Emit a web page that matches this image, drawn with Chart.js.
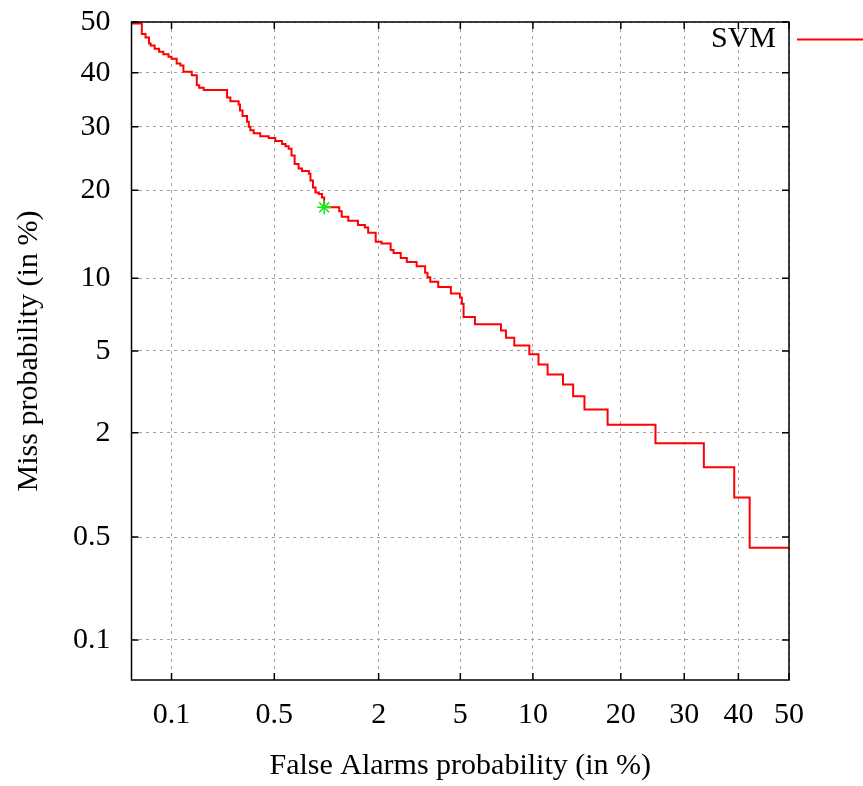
<!DOCTYPE html>
<html>
<head>
<meta charset="utf-8">
<title>DET curve</title>
<script src="https://cdn.jsdelivr.net/npm/chart.js@4.4.0/dist/chart.umd.min.js"></script>
<style>
  body { margin: 0; background: #fff; }
</style>
</head>
<body>
<canvas id="det" width="863" height="786"></canvas>
<script>
// tick positions (in %) shared by both axes
const tickPct = [0.1, 0.5, 2, 5, 10, 20, 30, 40, 50];
const tickLabels = ["0.1", "0.5", "2", "5", "10", "20", "30", "40", "50"];
const axisMinPct = 0.05;
const axisMaxPct = 50;

// SVM DET curve (false alarm %, miss %)
const falseAlarmPct = [0.05, 0.060, 0.064, 0.068, 0.070, 0.075, 0.081, 0.087, 0.095, 0.100,
  0.109, 0.116, 0.122, 0.140, 0.152, 0.158, 0.170, 0.246, 0.259, 0.294,
  0.300, 0.312, 0.334, 0.343, 0.351, 0.369, 0.407, 0.461, 0.507, 0.559,
  0.587, 0.614, 0.639, 0.668, 0.706, 0.74, 0.813, 0.831, 0.86, 0.89,
  0.931, 0.972, 1.0, 1.22, 1.26, 1.37, 1.55, 1.69, 1.76, 1.93,
  2.07, 2.31, 2.39, 2.60, 2.79, 3.12, 3.43, 3.52, 3.63, 3.96,
  4.53, 4.98, 5.08, 5.17, 5.80, 7.47, 7.83, 8.46, 9.69, 10.5,
  11.35, 12.9, 14.0, 15.3, 18.2, 25.2, 33.5, 39.2, 42.2, 50];
const missPct = [49.7, 47.6, 46.9, 45.7, 45.3, 44.7, 44.1, 43.6, 43.1, 42.7,
  41.8, 41.4, 40.2, 39.5, 37.6, 37.1, 36.7, 35.3, 34.6, 34.0,
  32.9, 31.9, 30.9, 30.0, 29.4, 28.9, 28.4, 28.1, 27.6, 27.1,
  26.7, 26.3, 25.2, 23.9, 23.2, 22.8, 22.4, 21.4, 20.4, 19.7,
  19.5, 19.0, 17.7, 17.2, 16.5, 16.0, 15.5, 15.2, 14.6, 13.6,
  13.4, 12.7, 12.4, 11.9, 11.5, 11.1, 10.5, 10.1, 9.7, 9.26,
  8.72, 8.41, 7.95, 7.01, 6.53, 6.15, 5.72, 5.29, 4.83, 4.34,
  3.90, 3.49, 3.06, 2.63, 2.20, 1.76, 1.30, 0.87, 0.428, 0.428];

// green star (operating point)
const pointFa = [1.0];
const pointMiss = [17.7];

// inverse of the normal cdf (Acklam), DET axes are on this scale
function probit(p) {
  const a = [-3.969683028665376e+01, 2.209460984245205e+02, -2.759285104469687e+02, 1.383577518672690e+02, -3.066479806614716e+01, 2.506628277459239e+00];
  const b = [-5.447609879822406e+01, 1.615858368580409e+02, -1.556989798598866e+02, 6.680131188771972e+01, -1.328068155288572e+01];
  const c = [-7.784894002430293e-03, -3.223964580411365e-01, -2.400758277161838e+00, -2.549732539343734e+00, 4.374664141464968e+00, 2.938163982698783e+00];
  const d = [7.784695709041462e-03, 3.224671290700398e-01, 2.445134137142996e+00, 3.754408661907416e+00];
  const pl = 0.02425;
  let q, r;
  if (p < pl) {
    q = Math.sqrt(-2 * Math.log(p));
    return (((((c[0] * q + c[1]) * q + c[2]) * q + c[3]) * q + c[4]) * q + c[5]) /
      ((((d[0] * q + d[1]) * q + d[2]) * q + d[3]) * q + 1);
  }
  if (p <= 1 - pl) {
    q = p - 0.5;
    r = q * q;
    return (((((a[0] * r + a[1]) * r + a[2]) * r + a[3]) * r + a[4]) * r + a[5]) * q /
      (((((b[0] * r + b[1]) * r + b[2]) * r + b[3]) * r + b[4]) * r + 1);
  }
  q = Math.sqrt(-2 * Math.log(1 - p));
  return -(((((c[0] * q + c[1]) * q + c[2]) * q + c[3]) * q + c[4]) * q + c[5]) /
    ((((d[0] * q + d[1]) * q + d[2]) * q + d[3]) * q + 1);
}

const toDev = (pct) => probit(pct / 100);

const curve = falseAlarmPct.map((fa, i) => ({ x: toDev(fa), y: toDev(missPct[i]) }));
const star = pointFa.map((fa, i) => ({ x: toDev(fa), y: toDev(pointMiss[i]) }));

const serif = '"Liberation Serif", "Times New Roman", serif';
Chart.defaults.color = "#000";
Chart.defaults.font.family = serif;

// frame, inward ticks on all four sides and the key
const detFrame = {
  id: "detFrame",
  afterDraw(chart) {
    const { ctx, chartArea: a } = chart;
    const xs = chart.scales.x, ys = chart.scales.y;
    ctx.save();
    ctx.strokeStyle = "#000";
    ctx.lineWidth = 1.5;
    ctx.strokeRect(a.left, a.top, a.right - a.left, a.bottom - a.top);
    ctx.beginPath();
    xs.ticks.forEach((t) => {
      const px = xs.getPixelForValue(t.value);
      ctx.moveTo(px, a.bottom); ctx.lineTo(px, a.bottom - 7);
      ctx.moveTo(px, a.top); ctx.lineTo(px, a.top + 7);
    });
    ys.ticks.forEach((t) => {
      const py = ys.getPixelForValue(t.value);
      ctx.moveTo(a.left, py); ctx.lineTo(a.left + 7, py);
      ctx.moveTo(a.right, py); ctx.lineTo(a.right - 7, py);
    });
    ctx.stroke();

    ctx.font = "30px " + serif;
    ctx.fillStyle = "#000";
    ctx.textAlign = "right";
    ctx.textBaseline = "alphabetic";
    ctx.fillText("SVM", 776, 47);
    ctx.strokeStyle = "#ff0000";
    ctx.lineWidth = 2;
    ctx.beginPath();
    ctx.moveTo(797, 39.5);
    ctx.lineTo(863, 39.5);
    ctx.stroke();
    ctx.restore();
  }
};

function probitTicks(scale) {
  scale.ticks = tickPct.map((p) => ({ value: toDev(p) }));
}

const gridOpts = { color: "#a0a0a0", lineWidth: 1, drawTicks: false };
const borderOpts = { display: false, dash: [3, 4] };

new Chart(document.getElementById("det"), {
  type: "line",
  data: {
    datasets: [
      {
        label: "point",
        data: star,
        showLine: false,
        pointStyle: "star",
        pointRadius: 7,
        borderColor: "#11ee11",
        backgroundColor: "#11ee11",
        pointBorderWidth: 1.5
      },
      {
        label: "SVM",
        data: curve,
        stepped: "before",
        borderColor: "#ff0000",
        borderWidth: 2,
        pointRadius: 0,
        fill: false
      }
    ]
  },
  options: {
    responsive: false,
    animation: false,
    devicePixelRatio: 1,
    layout: { padding: { top: 22, right: 74, bottom: 0, left: 0 } },
    plugins: { legend: { display: false }, tooltip: { enabled: false } },
    scales: {
      x: {
        type: "linear",
        min: toDev(axisMinPct),
        max: toDev(axisMaxPct),
        afterBuildTicks: probitTicks,
        afterFit(scale) {
          scale.height = 106;
          scale.paddingLeft = 0;
          scale.paddingRight = 0;
        },
        grid: gridOpts,
        border: borderOpts,
        ticks: {
          autoSkip: false,
          maxRotation: 0,
          padding: 17,
          font: { size: 30 },
          callback: (v, i) => tickLabels[i]
        },
        title: {
          display: true,
          text: "False Alarms probability (in %)",
          font: { size: 30 },
          padding: { top: 0, bottom: 2 }
        }
      },
      y: {
        type: "linear",
        min: toDev(axisMinPct),
        max: toDev(axisMaxPct),
        afterBuildTicks: probitTicks,
        afterFit(scale) {
          scale.width = 131.5;
          scale.paddingTop = 0;
          scale.paddingBottom = 0;
        },
        grid: gridOpts,
        border: borderOpts,
        ticks: {
          autoSkip: false,
          padding: 21,
          font: { size: 30 },
          callback: (v, i) => tickLabels[i]
        },
        title: {
          display: true,
          text: "Miss probability (in %)",
          font: { size: 30 },
          padding: { top: 11, bottom: 0 }
        }
      }
    }
  },
  plugins: [detFrame]
});
</script>
</body>
</html>
